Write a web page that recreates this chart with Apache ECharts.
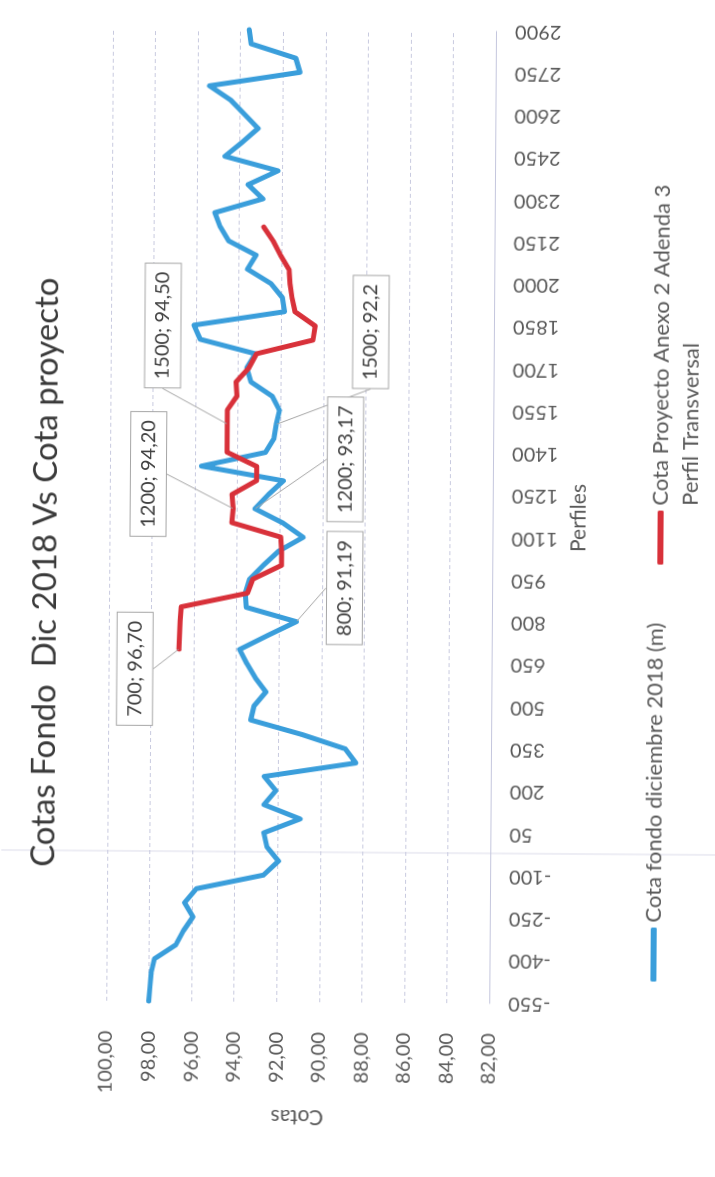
<!DOCTYPE html>
<html>
<head>
<meta charset="utf-8">
<script src="https://cdn.jsdelivr.net/npm/echarts@6/dist/echarts.min.js"></script>
<style>
  html, body { margin: 0; padding: 0; width: 715px; height: 1177px; overflow: hidden; background: #fff; }
  #chart { position: absolute; left: 0; top: 0; width: 1177px; height: 715px; background: #fff;
    transform-origin: 0 0; transform: translate(-1px, 1177px) rotate(-89.6deg); }
</style>
</head>
<body>
<div id="chart"></div>
<script>
// ---------------- DATA ----------------
const perfilTicks = [-550, -400, -250, -100, 50, 200, 350, 500, 650, 800, 950, 1100, 1250,
  1400, 1550, 1700, 1850, 2000, 2150, 2300, 2450, 2600, 2750, 2900];
const cotaTicks = [82, 84, 86, 88, 90, 92, 94, 96, 98, 100];

const fondoPerfiles = [-550, -500, -450, -400, -350, -300, -250, -200, -150, -100, -50,
  0, 50, 100, 150, 200, 250, 300, 350, 400, 450, 500, 550, 600, 650, 700, 750, 800, 850,
  900, 950, 1000, 1050, 1100, 1150, 1200, 1250, 1300, 1350, 1400, 1450, 1500, 1550, 1600,
  1650, 1700, 1750, 1800, 1850, 1900, 1950, 2000, 2050, 2100, 2150, 2200, 2250, 2300,
  2350, 2400, 2450, 2500, 2550, 2600, 2650, 2700, 2750, 2800, 2850, 2900];
const fondoCotas = [98.0, 97.95, 97.9, 97.75, 96.75, 96.4, 95.95, 96.35, 95.8, 92.65, 91.95,
  92.5, 92.65, 90.95, 92.65, 92.1, 92.65, 88.35, 88.85, 90.9, 93.3, 93.15, 92.6, 93.1, 93.5,
  93.85, 92.55, 91.19, 93.55, 93.6, 93.4, 92.75, 92.05, 90.9, 91.85, 93.17, 92.55, 91.85,
  95.7, 92.7, 92.3, 92.2, 92.05, 92.4, 93.4, 93.6, 93.2, 95.8, 96.1, 91.85, 91.95, 92.5,
  93.6, 93.2, 94.5, 94.9, 95.15, 92.9, 93.6, 92.2, 94.7, 93.9, 93.15, 93.8, 94.45, 95.45,
  91.2, 91.4, 93.5, 93.6];

const proyectoPerfiles = [700, 750, 800, 850, 900, 950, 1000, 1050, 1100, 1150, 1200, 1250,
  1300, 1350, 1400, 1450, 1500, 1550, 1600, 1650, 1700, 1750, 1800, 1850, 1900, 1950, 2000,
  2050, 2100, 2150, 2200];
const proyectoCotas = [96.70, 96.68, 96.65, 96.6, 93.5, 93.25, 91.9, 91.9, 91.95, 94.25,
  94.20, 94.25, 93.1, 93.1, 94.5, 94.5, 94.50, 94.5, 94.05, 94.1, 93.5, 93.15, 90.5, 90.4,
  91.35, 91.5, 91.6, 91.65, 92.05, 92.4, 92.85];

// labelled points: [perfil, decimals shown]
const fondoLabels = [[800, 2], [1200, 2], [1500, 1]];
const proyectoLabels = [[700, 2], [1200, 2], [1500, 2]];

const seriesNames = ['Cota fondo diciembre 2018 (m)', 'Cota Proyecto Anexo 2 Adenda 3\nPerfil Transversal'];
const titleText = 'Cotas Fondo  Dic 2018 Vs Cota proyecto';

// ---------------- LAYOUT (label offsets in px, not data) ----------------
const labelOffsets = {
  '0-800': [34, 48], '0-1200': [50, 90], '0-1500': [93, 94],
  '1-700': [-20, -44], '1-1200': [34, -85], '1-1500': [98, -65]
};

const FONT = 'Lato, "Open Sans", sans-serif';
const fmt = (v, d) => v.toFixed(d).replace('.', ',');

function buildData(perfiles, cotas, labels) {
  const lab = new Map(labels.map(l => [l[0], l[1]]));
  return perfiles.map((p, i) => {
    if (lab.has(p)) {
      return {
        value: [p, cotas[i]],
        label: { show: true, formatter: p + '; ' + fmt(cotas[i], lab.get(p)) },
        labelLine: { show: true }
      };
    }
    return [p, cotas[i]];
  });
}

const labelStyle = {
  show: false, position: 'top', fontFamily: FONT, fontSize: 20, color: '#404040',
  backgroundColor: '#ffffff', borderColor: '#a6a6a6', borderWidth: 1,
  padding: [6, 8, 5, 8], lineHeight: 24
};
const labelLineStyle = { show: true, lineStyle: { color: '#a6a6a6', width: 1 } };

function makeLayout(seriesIdx, perfiles) {
  return function (p) {
    const key = seriesIdx + '-' + perfiles[p.dataIndex];
    const off = labelOffsets[key];
    if (!off) return {};
    return {
      x: p.rect.x + p.rect.width / 2 + off[0],
      y: p.rect.y + p.rect.height / 2 + off[1],
      align: 'center', verticalAlign: 'middle'
    };
  };
}

const chart = echarts.init(document.getElementById('chart'), null, { renderer: 'canvas' });
chart.setOption({
  backgroundColor: '#ffffff',
  animation: false,
  title: {
    text: titleText, left: 600, top: 21, textAlign: 'center',
    textStyle: { fontFamily: FONT, fontSize: 33, fontWeight: 'normal', color: '#3a3a3a' }
  },
  grid: { left: 177, right: 28, top: 106, bottom: 226 },
  legend: [
    {
      data: [seriesNames[0]], left: 200, top: 638, padding: 0,
      icon: 'roundRect', itemWidth: 54, itemHeight: 6,
      textStyle: { fontFamily: FONT, fontSize: 22, color: '#595959', lineHeight: 30 }
    },
    {
      data: [seriesNames[1]], left: 617, top: 612, padding: 0,
      icon: 'roundRect', itemWidth: 54, itemHeight: 6,
      formatter: n => ' \n' + n,
      textStyle: { fontFamily: FONT, fontSize: 22, color: '#595959', lineHeight: 30 }
    }
  ],
  xAxis: {
    type: 'value', min: perfilTicks[0], max: perfilTicks[perfilTicks.length - 1],
    name: 'Perfiles', nameLocation: 'middle', nameGap: 76,
    nameTextStyle: { fontFamily: FONT, fontSize: 21, color: '#595959' },
    axisLine: { show: true, onZero: false, lineStyle: { color: '#c4c6dd', width: 1 } },
    axisTick: { show: false },
    axisLabel: {
      customValues: perfilTicks, rotate: 90, margin: 19,
      fontFamily: FONT, fontSize: 20, color: '#595959',
      formatter: v => String(v)
    },
    splitLine: { show: false }
  },
  yAxis: {
    type: 'value', min: cotaTicks[0], max: cotaTicks[cotaTicks.length - 1], interval: 2,
    name: 'Cotas', nameLocation: 'middle', nameGap: 104,
    nameTextStyle: { fontFamily: FONT, fontSize: 21, color: '#595959' },
    axisLine: { show: false },
    axisTick: { show: false },
    axisLabel: {
      margin: 30, fontFamily: FONT, fontSize: 20, color: '#595959',
      formatter: v => fmt(v, 2)
    },
    splitLine: { show: true, lineStyle: { color: '#c8cadf', width: 1, type: [4, 3] } }
  },
  graphic: [
    { type: 'line', silent: true, shape: { x1: 327, y1: 0, x2: 327, y2: 715 },
      style: { stroke: '#dcdcea', lineWidth: 1 }, z: -1 }
  ],
  series: [
    {
      name: seriesNames[0], type: 'line',
      data: buildData(fondoPerfiles, fondoCotas, fondoLabels),
      symbol: 'circle', symbolSize: 1, showSymbol: true,
      color: '#3a9edb',
      lineStyle: { width: 5, color: '#3a9edb', cap: 'round', join: 'round' },
      label: labelStyle, labelLine: labelLineStyle,
      labelLayout: makeLayout(0, fondoPerfiles), z: 2
    },
    {
      name: seriesNames[1], type: 'line',
      data: buildData(proyectoPerfiles, proyectoCotas, proyectoLabels),
      symbol: 'circle', symbolSize: 1, showSymbol: true,
      color: '#d8313a',
      lineStyle: { width: 5, color: '#d8313a', cap: 'round', join: 'round' },
      label: labelStyle, labelLine: labelLineStyle,
      labelLayout: makeLayout(1, proyectoPerfiles), z: 3
    }
  ]
});
</script>
</body>
</html>
